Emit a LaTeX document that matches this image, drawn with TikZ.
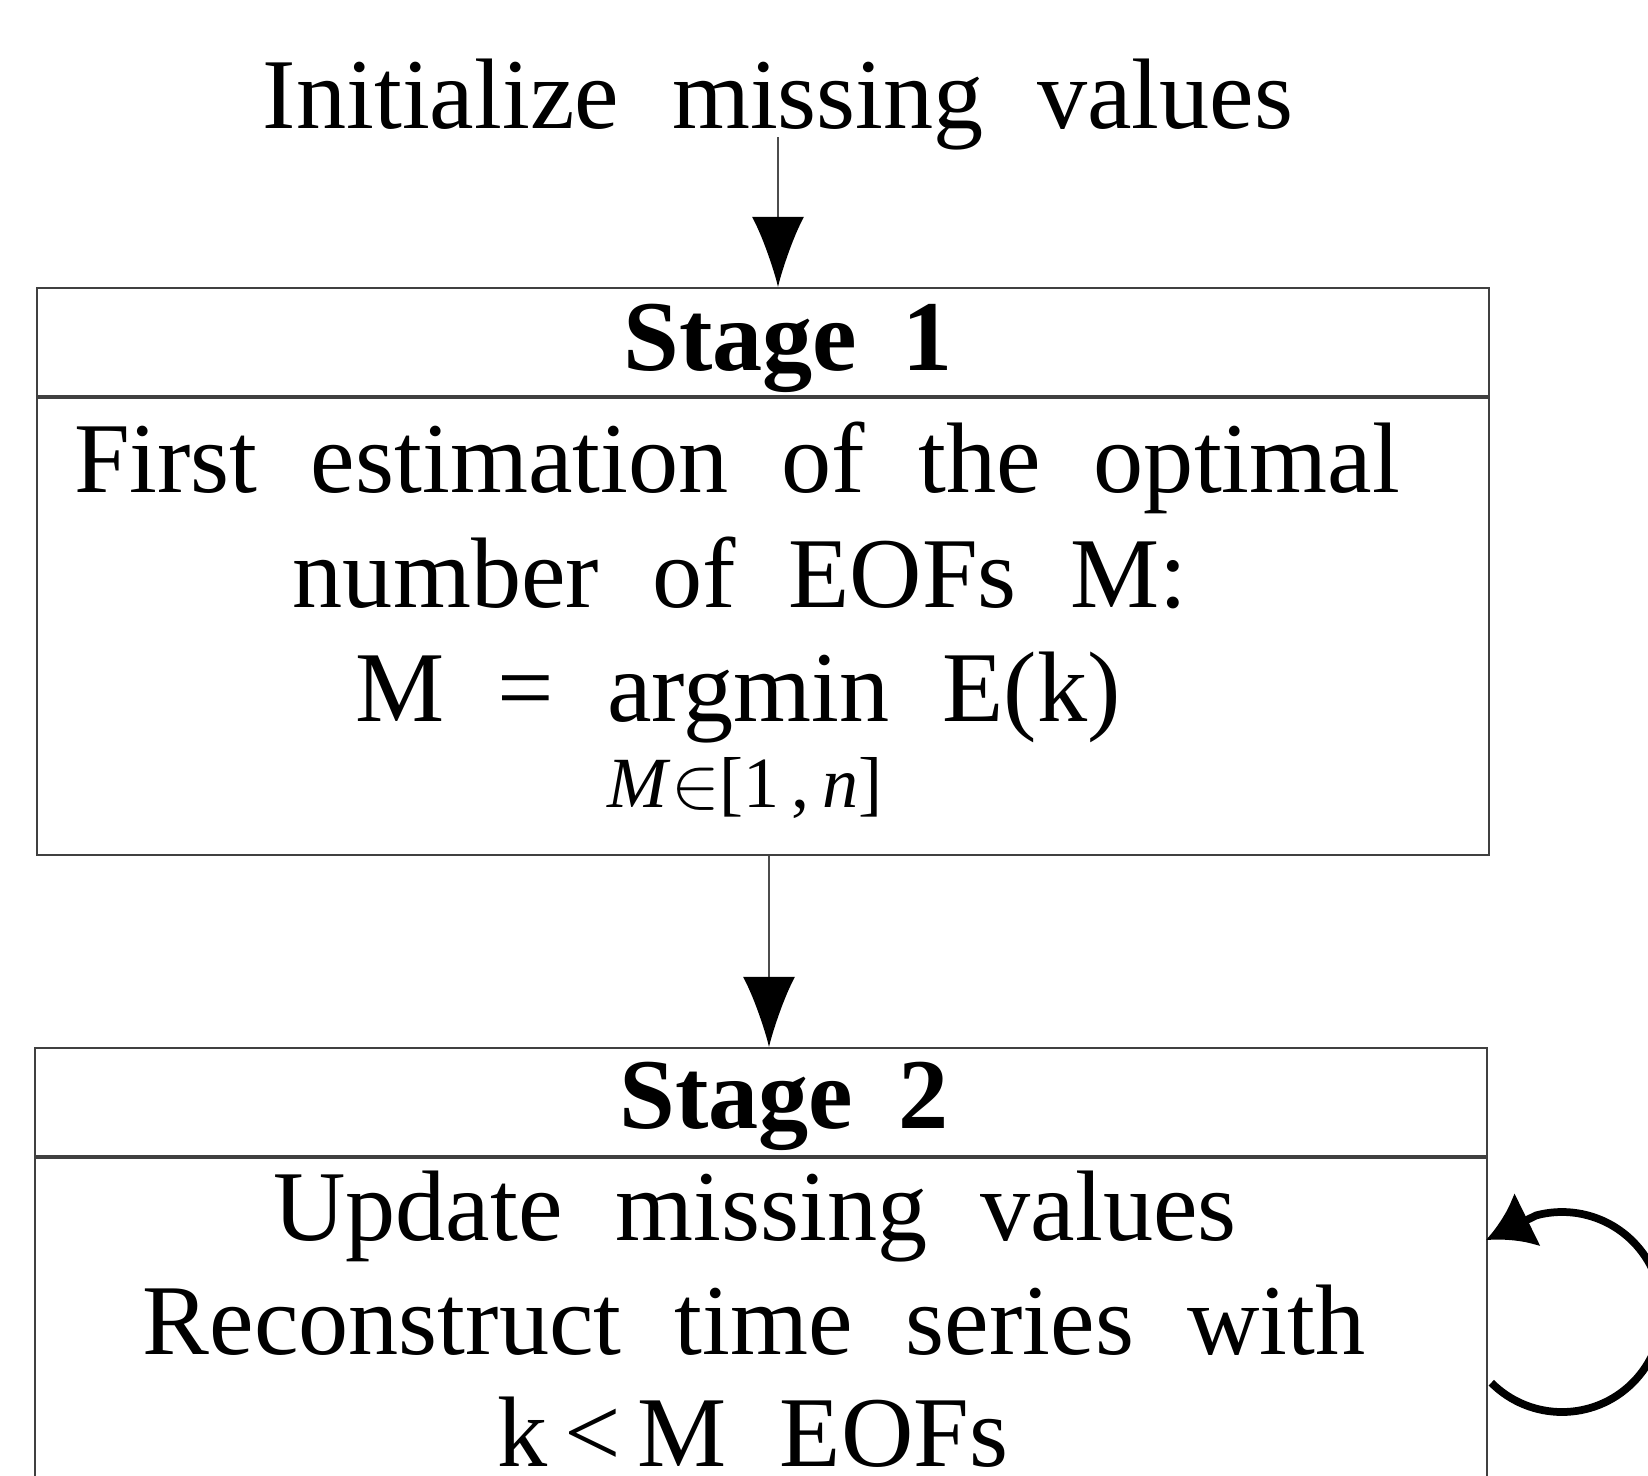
\documentclass[tikz,border=0pt]{standalone}
\usepackage{fontspec}
\setmainfont{Liberation Serif}
\usetikzlibrary{arrows.meta,positioning,calc}
\newcommand{\bw}{14.52cm}
\newcommand{\fsz}{\fontsize{28.5}{34}\selectfont\spaceskip=0.53em plus 0.1em\relax}
\newcommand{\hfsz}{\fontsize{28.5}{34}\selectfont\bfseries\spaceskip=0.45em plus 0.1em\relax}
\tikzset{
  txt/.style={anchor=base,inner sep=0pt,font=\fsz},
  headtxt/.style={anchor=base,inner sep=0pt,font=\hfsz},
  smalltxt/.style={anchor=base,inner sep=0pt,font=\fontsize{20.5}{24}\selectfont},
  stagebox/.style={draw=black!75,line width=0.6pt,minimum width=\bw,inner sep=0pt},
  flow/.style={draw=black!70,line width=0.6pt,->},
  loopy/.style={line width=2.2pt,-{Latex[length=4.6mm,width=6mm]}}
}

\begin{document}
\begin{tikzpicture}[x=0.01cm,y=-0.01cm,>={Latex[length=7mm,width=5.2mm,color=black]}]
  \clip (0,0) rectangle (1648,1475);
  \node[txt] (init) at (778,128) {Initialize missing values};

  % stage 1
  \node[stagebox,minimum height=1.08cm] (h1) at (763,342) {};
  \node[stagebox,minimum height=4.57cm,below=0pt of h1] (b1) {};
  \node[headtxt] (t1) at (788,370) {Stage 1};
  \node[txt] (l11) at (737,492) {First estimation of the optimal};
  \node[txt] (l12) at (740,607) {number of EOFs M:};
  \node[txt] (l13) at (738,721) {M = argmin E(k)};
  \node[smalltxt] (rng) at (745,807) {\textit{M}$\in$[1\,,\,\textit{n}]};

  % stage 2
  \node[stagebox,minimum height=1.08cm] (h2) at (761,1102) {};
  \node[stagebox,minimum height=5cm,below=0pt of h2] (b2) {};
  \node[headtxt] (t2) at (784,1128) {Stage 2};
  \node[txt] (l21) at (755,1240) {Update missing values};
  \node[txt] (l22) at (754,1354) {Reconstruct time series with};
  \node[txt] (l23) at (753,1466) {k\,<\,M EOFs};

  \coordinate (a1) at ([yshift=0.13cm]init.south);
  \coordinate (a2) at ([xshift=0.06cm]b1.south);
  \draw[flow] (a1) -- (a1 |- h1.north);
  \draw[flow] (a2) -- (a2 |- h2.north);

  % loop on stage 2
  \coordinate (lc) at (1562,1312);
  \coordinate (lt) at (1486,1240);
  \draw[loopy] (lc) ++(135:100) arc (135:-105:100) -- (lt);
\end{tikzpicture}
\end{document}
